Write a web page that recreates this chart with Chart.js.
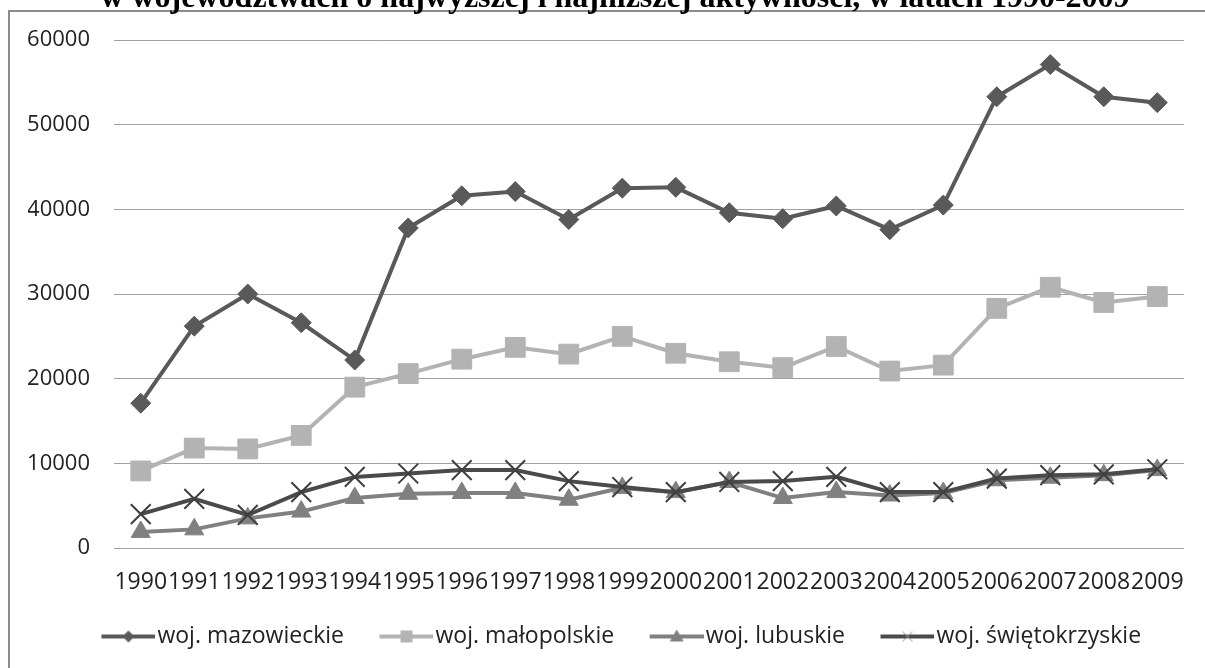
<!DOCTYPE html>
<html>
<head>
<meta charset="utf-8">
<script src="https://cdn.jsdelivr.net/npm/chart.js@4.4.1/dist/chart.umd.min.js"></script>
<style>
  body { margin: 0; background: #fff; }
  canvas { display: block; }
</style>
</head>
<body>
<canvas id="chart" width="1205" height="668"></canvas>
<script>
// dane
const years = ['1990', '1991', '1992', '1993', '1994', '1995', '1996', '1997', '1998', '1999',
  '2000', '2001', '2002', '2003', '2004', '2005', '2006', '2007', '2008', '2009'];
const seriesNames = ['woj. mazowieckie', 'woj. małopolskie', 'woj. lubuskie', 'woj. świętokrzyskie'];
const mazowieckie = [17100, 26200, 30000, 26600, 22200, 37800, 41600, 42100, 38800, 42500,
  42600, 39600, 38900, 40400, 37600, 40500, 53300, 57100, 53300, 52600];
const malopolskie = [9100, 11800, 11700, 13300, 19000, 20600, 22300, 23700, 22900, 25000,
  23000, 22000, 21300, 23800, 20900, 21600, 28300, 30800, 29000, 29700];
const lubuskie = [1900, 2200, 3500, 4300, 5900, 6400, 6500, 6500, 5700, 7100,
  6600, 7800, 5900, 6600, 6200, 6500, 8000, 8300, 8600, 9200];
const swietokrzyskie = [4000, 5800, 3900, 6600, 8400, 8800, 9200, 9200, 7900, 7200,
  6600, 7800, 7900, 8400, 6600, 6600, 8200, 8600, 8700, 9300];
const yTicks = [0, 10000, 20000, 30000, 40000, 50000, 60000];
const titleText = 'w województwach o najwyższej i najniższej aktywności, w latach 1990-2009';

const font = 'Open Sans';

// legend samples: line with marker, placed at the right end of the image
// so the text follows right after it
function legendSample(color, marker, markerColor) {
  const c = document.createElement('canvas');
  c.width = 89; c.height = 22;
  const ctx = c.getContext('2d');
  const x0 = 35, cx = x0 + 27;
  ctx.strokeStyle = color;
  ctx.lineWidth = 4;
  ctx.beginPath(); ctx.moveTo(x0, 11); ctx.lineTo(x0 + 54, 11); ctx.stroke();
  ctx.fillStyle = markerColor;
  ctx.strokeStyle = markerColor;
  ctx.beginPath();
  if (marker === 'diamond') {
    ctx.moveTo(cx, 5); ctx.lineTo(cx + 6, 11); ctx.lineTo(cx, 17); ctx.lineTo(cx - 6, 11); ctx.closePath(); ctx.fill();
  } else if (marker === 'square') {
    ctx.rect(cx - 6, 5, 12, 12); ctx.fill();
  } else if (marker === 'triangle') {
    ctx.moveTo(cx, 4); ctx.lineTo(cx + 7, 16); ctx.lineTo(cx - 7, 16); ctx.closePath(); ctx.fill();
  } else {
    ctx.lineWidth = 1;
    ctx.moveTo(cx - 5, 6); ctx.lineTo(cx + 5, 16); ctx.moveTo(cx + 5, 6); ctx.lineTo(cx - 5, 16); ctx.stroke();
  }
  return c;
}

const legendImgs = [
  legendSample('#595959', 'diamond', '#595959'),
  legendSample('#b3b3b3', 'square', '#b3b3b3'),
  legendSample('#808080', 'triangle', '#808080'),
  legendSample('#4a4a4a', 'cross', '#8c8c8c')
];

// title (cut at the top) and outer frame
const framePlugin = {
  id: 'frame',
  afterDraw(chart) {
    const ctx = chart.ctx;
    ctx.save();
    ctx.strokeStyle = '#8c8c8c';
    ctx.lineWidth = 2;
    ctx.strokeRect(9, 11, 1210, 700);
    ctx.fillStyle = '#000';
    ctx.font = 'bold 32px "Liberation Serif"';
    ctx.textAlign = 'center';
    ctx.textBaseline = 'alphabetic';
    ctx.fillText(titleText, 615, 7);
    ctx.restore();
  }
};

const ctx = document.getElementById('chart').getContext('2d');
new Chart(ctx, {
  type: 'line',
  data: {
    labels: years,
    datasets: [
      {
        label: seriesNames[0], data: mazowieckie, order: 4,
        borderColor: '#595959', backgroundColor: '#595959', borderWidth: 4,
        pointStyle: 'rectRot', pointRadius: 10, pointBorderWidth: 1,
        pointBackgroundColor: '#595959', pointBorderColor: '#595959'
      },
      {
        label: seriesNames[1], data: malopolskie, order: 3,
        borderColor: '#b3b3b3', backgroundColor: '#b3b3b3', borderWidth: 4,
        pointStyle: 'rect', pointRadius: 14, pointBorderWidth: 1,
        pointBackgroundColor: '#b3b3b3', pointBorderColor: '#b3b3b3'
      },
      {
        label: seriesNames[2], data: lubuskie, order: 2,
        borderColor: '#808080', backgroundColor: '#808080', borderWidth: 4,
        pointStyle: 'triangle', pointRadius: 11, pointBorderWidth: 1,
        pointBackgroundColor: '#808080', pointBorderColor: '#808080'
      },
      {
        label: seriesNames[3], data: swietokrzyskie, order: 1,
        borderColor: '#4a4a4a', backgroundColor: '#4a4a4a', borderWidth: 4,
        pointStyle: 'crossRot', pointRadius: 14, pointBorderWidth: 2,
        pointBackgroundColor: '#3f3f3f', pointBorderColor: '#3f3f3f'
      }
    ]
  },
  options: {
    responsive: false,
    animation: false,
    layout: { padding: { left: 28, right: 16, top: 40, bottom: 10 } },
    elements: { line: { tension: 0 } },
    scales: {
      x: {
        offset: true,
        grid: { display: false, drawTicks: false },
        border: { display: false },
        ticks: {
          autoSkip: false, maxRotation: 0, minRotation: 0, padding: 21,
          color: '#222', font: { family: font, size: 23 }
        },
        afterFit(scale) { scale.height = 67; }
      },
      y: {
        min: 0, max: 60000,
        grid: { color: '#a0a0a0', lineWidth: 1, drawTicks: false },
        border: { display: false },
        afterBuildTicks(scale) { scale.ticks = yTicks.map(v => ({ value: v })); },
        ticks: {
          padding: 24, color: '#222', font: { family: font, size: 22 },
          callback: v => String(v)
        },
        afterFit(scale) { scale.width = 86; }
      }
    },
    plugins: {
      title: { display: false },
      tooltip: { enabled: false },
      legend: {
        position: 'bottom',
        labels: {
          usePointStyle: true,
          pointStyleWidth: 70,
          padding: 10,
          color: '#222',
          font: { family: font, size: 23 },
          sort: (a, b) => a.datasetIndex - b.datasetIndex,
          generateLabels(chart) {
            const items = Chart.defaults.plugins.legend.labels.generateLabels(chart);
            items.forEach(it => { it.pointStyle = legendImgs[it.datasetIndex]; });
            return items;
          }
        }
      }
    }
  },
  plugins: [framePlugin]
});
</script>
</body>
</html>
